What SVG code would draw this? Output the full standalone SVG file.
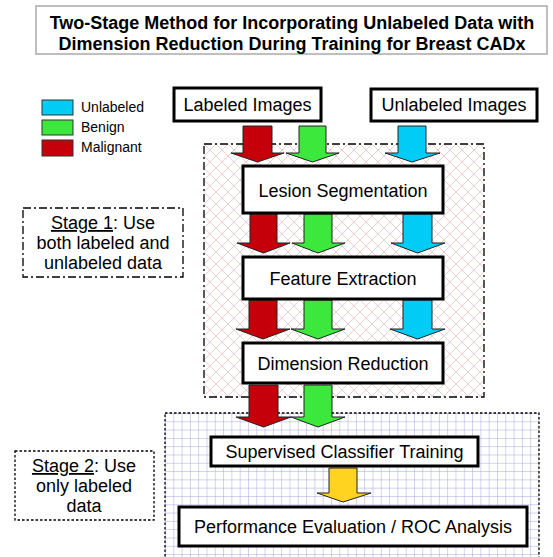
<svg xmlns="http://www.w3.org/2000/svg" width="553" height="557" viewBox="0 0 553 557">
<style>
text{font-family:"Liberation Sans",Arial,sans-serif;fill:#000}
.box{fill:#fff;stroke:#000;stroke-width:3}
.lbl{font-size:18px;text-anchor:middle}
.leg{font-size:14px}
.arr{stroke:#222;stroke-width:1;stroke-linejoin:miter}
.red{fill:#c5000b}.grn{fill:#3de83d}.cyn{fill:#00ccf5}.yel{fill:#ffd320}
</style>
<defs>
<pattern id="hatch" width="12" height="12" patternUnits="userSpaceOnUse" x="204" y="144">
<path d="M0,0L12,12M12,0L0,12" stroke="#e6c4c4" stroke-width="0.8" fill="none"/>
</pattern>
<pattern id="grid" width="8.3" height="8.3" patternUnits="userSpaceOnUse" x="165" y="413">
<path d="M0,0H8.3M0,0V8.3" stroke="#9c9ce0" stroke-width="0.9" fill="none"/>
</pattern>
</defs>
<rect width="553" height="557" fill="#fff"/>
<g id="title">
<rect x="36" y="6" width="511" height="48" fill="#fff" stroke="#aaa" stroke-width="1.5"/>
<text x="292" y="29" font-size="18" font-weight="bold" text-anchor="middle">Two-Stage Method for Incorporating Unlabeled Data with</text>
<text x="292" y="50" font-size="18" font-weight="bold" text-anchor="middle">Dimension Reduction During Training for Breast CADx</text>
</g>
<g id="stage1-region">
<rect x="204" y="144" width="280" height="253" fill="url(#hatch)" stroke="#000" stroke-width="1.3" stroke-dasharray="8,3,2,3"/>
</g>
<g id="stage2-region">
<rect x="165" y="413" width="374" height="150" fill="url(#grid)" stroke="#000" stroke-width="1.3" stroke-dasharray="2.5,2"/>
</g>
<g id="legend">
<rect x="42" y="100" width="31" height="15" class="cyn" stroke="#333"/>
<rect x="42" y="120" width="31" height="15" class="grn" stroke="#333"/>
<rect x="42" y="140" width="31" height="16" class="red" stroke="#333"/>
<text x="81" y="112" class="leg">Unlabeled</text>
<text x="81" y="132" class="leg">Benign</text>
<text x="81" y="152" class="leg">Malignant</text>
</g>
<g id="stage1-note">
<rect x="23" y="208" width="160" height="69" fill="#fff" stroke="#000" stroke-width="1.3" stroke-dasharray="8,3,2,3"/>
<text x="103" y="229" class="lbl"><tspan text-decoration="underline">Stage 1</tspan>: Use</text>
<text x="103" y="249" class="lbl">both labeled and</text>
<text x="103" y="269" class="lbl">unlabeled data</text>
</g>
<g id="stage2-note">
<rect x="15" y="451" width="139" height="69" fill="#fff" stroke="#000" stroke-width="1.3" stroke-dasharray="2.5,2"/>
<text x="84" y="472" class="lbl"><tspan text-decoration="underline">Stage 2</tspan>: Use</text>
<text x="84" y="492" class="lbl">only labeled</text>
<text x="84" y="512" class="lbl">data</text>
</g>
<g id="connectors">
<path class="arr red" d="M243,126H272V153H284L257.5,162L231,153H243Z"/>
<path class="arr grn" d="M299,126H326V153H339L312.5,162L286,153H299Z"/>
<path class="arr cyn" d="M398,126H426V153H440L412,162L385,153H398Z"/>
<path class="arr red" d="M250,214H277V243H290L263.5,253L237,243H250Z"/>
<path class="arr grn" d="M304,214H332V243H345L318,253L292,243H304Z"/>
<path class="arr cyn" d="M403,214H432V243H445L417.5,253L391,243H403Z"/>
<path class="arr red" d="M249,300H277V329H290L263,339L236,329H249Z"/>
<path class="arr grn" d="M304,300H332V329H345L318,339L291,329H304Z"/>
<path class="arr cyn" d="M403,300H432V329H445L417.5,339L390,329H403Z"/>
<path class="arr red" d="M249,385H278V417H291L263.5,427L236,417H249Z"/>
<path class="arr grn" d="M304,385H332V417H345L318,427L291,417H304Z"/>
<path class="arr yel" d="M329,468H357V493H371L343,502L317,493H329Z"/>
</g>
<g id="labeled-images">
<rect x="174" y="88" width="147" height="33" class="box"/>
<text x="247.5" y="111" class="lbl">Labeled Images</text>
</g>
<g id="unlabeled-images">
<rect x="371" y="89" width="166" height="32" class="box"/>
<text x="454" y="111" class="lbl">Unlabeled Images</text>
</g>
<g id="lesion-segmentation">
<rect x="243" y="166" width="200" height="47" class="box"/>
<text x="343" y="197" class="lbl">Lesion Segmentation</text>
</g>
<g id="feature-extraction">
<rect x="243" y="257" width="200" height="42" class="box"/>
<text x="343" y="285" class="lbl">Feature Extraction</text>
</g>
<g id="dimension-reduction">
<rect x="243" y="343" width="200" height="40" class="box"/>
<text x="343" y="370" class="lbl">Dimension Reduction</text>
</g>
<g id="supervised-training">
<rect x="211" y="437" width="267" height="29" class="box"/>
<text x="344.5" y="458" class="lbl">Supervised Classifier Training</text>
</g>
<g id="performance-evaluation">
<rect x="179" y="507" width="348" height="39" class="box"/>
<text x="353" y="533" class="lbl">Performance Evaluation / ROC Analysis</text>
</g>
</svg>
